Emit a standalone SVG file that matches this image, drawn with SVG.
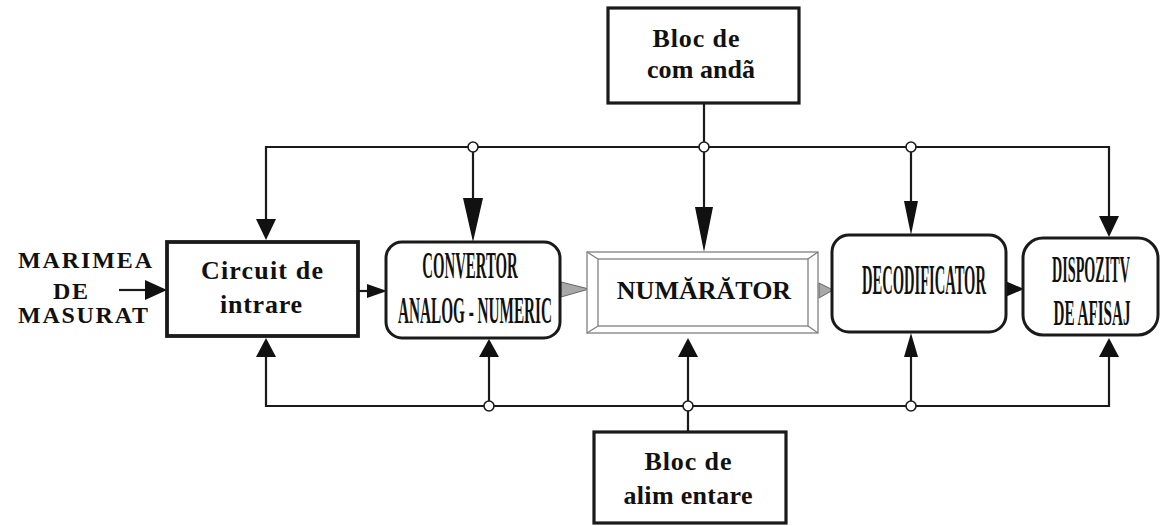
<svg xmlns="http://www.w3.org/2000/svg" width="1162" height="526" viewBox="0 0 1162 526">
<style>
.bg{fill:#fff}
.box{fill:#fff;stroke:#1a1a1a;stroke-width:3.2}
.rbox{fill:#fff;stroke:#1a1a1a;stroke-width:3}
.wire{fill:none;stroke:#1a1a1a;stroke-width:2.2}
.head{fill:#111;stroke:none}
.grey{fill:#a8a8a8;stroke:#666;stroke-width:1}
.dot{fill:#fff;stroke:#1a1a1a;stroke-width:1.6}
.frame{fill:#fff;stroke:#808080;stroke-width:1.3}
.t{font-family:"Liberation Serif","Times New Roman",serif;font-weight:bold;fill:#111}
.ts{font-size:26px;text-anchor:middle}
.tc{text-anchor:middle}
.lab{font-size:24px}
</style>
<rect class="bg" x="0" y="0" width="1162" height="526"/>

<g id="connectors">
  <polyline class="wire" points="266,220 266,147 1109,147 1109,218"/>
  <line class="wire" x1="704" y1="103" x2="704" y2="210"/>
  <line class="wire" x1="473" y1="147" x2="473" y2="200"/>
  <line class="wire" x1="911" y1="147" x2="911" y2="203"/>
  <polygon class="head" points="256,219 276,219 266,240"/>
  <polygon class="head" points="463,198 483,198 473,242"/>
  <polygon class="head" points="695,207 713,207 704,252"/>
  <polygon class="head" points="904,201 918,201 911,235"/>
  <polygon class="head" points="1099,216 1119,216 1109,237"/>
  <polyline class="wire" points="266,356 266,406 1109,406 1109,356"/>
  <line class="wire" x1="688" y1="432" x2="688" y2="356"/>
  <line class="wire" x1="489" y1="406" x2="489" y2="356"/>
  <line class="wire" x1="911" y1="406" x2="911" y2="356"/>
  <polygon class="head" points="256,357 276,357 266,338"/>
  <polygon class="head" points="479,357 499,357 489,339"/>
  <polygon class="head" points="678,357 698,357 688,338"/>
  <polygon class="head" points="904,357 918,357 911,333"/>
  <polygon class="head" points="1099,357 1119,357 1109,338"/>
  <circle class="dot" cx="473" cy="147" r="5"/>
  <circle class="dot" cx="704" cy="147" r="5"/>
  <circle class="dot" cx="911" cy="147" r="5"/>
  <circle class="dot" cx="489" cy="406" r="5"/>
  <circle class="dot" cx="688" cy="406" r="5"/>
  <circle class="dot" cx="911" cy="406" r="5"/>
  <line class="wire" x1="119" y1="290" x2="147" y2="290"/>
  <polygon class="head" points="145,280 167,290 145,300"/>
  <line class="wire" x1="359" y1="291" x2="369" y2="291"/>
  <polygon class="head" points="367,284 387,291 367,298"/>
  <polygon class="grey" points="561,282 589,289 561,297"/>
  <polygon class="grey" points="819,283 833,290 819,298"/>
  <polygon class="head" points="1003,280 1024,289 1003,298"/>
</g>

<g id="input-label">
  <text class="t lab" x="18" y="268" textLength="134" lengthAdjust="spacing">MARIMEA</text>
  <text class="t lab" x="53" y="299" textLength="35" lengthAdjust="spacing">DE</text>
  <text class="t lab" x="18" y="323" textLength="130" lengthAdjust="spacing">MASURAT</text>
</g>

<g id="bloc-comanda">
  <rect class="box" x="608" y="8" width="191" height="95"/>
  <text class="t ts" x="696" y="47" textLength="87" lengthAdjust="spacing">Bloc de</text>
  <text class="t ts" x="701" y="78" textLength="108" lengthAdjust="spacing">com andã</text>
</g>

<g id="circuit-intrare">
  <rect class="box" x="167" y="242" width="191" height="94" style="stroke-width:3.8"/>
  <text class="t ts" x="262" y="279" textLength="122" lengthAdjust="spacing">Circuit de</text>
  <text class="t ts" x="261" y="313" textLength="82" lengthAdjust="spacing">intrare</text>
</g>

<g id="convertor">
  <rect class="rbox" x="386" y="242" width="174" height="96" rx="16"/>
  <text class="t tc" style="font-size:37px" transform="translate(470,278) scale(0.40,1)">CONVERTOR</text>
  <text class="t tc" style="font-size:37px" transform="translate(475,323) scale(0.412,1)">ANALOG - NUMERIC</text>
</g>

<g id="numarator">
  <rect class="frame" x="587" y="252" width="231" height="81"/>
  <rect class="frame" x="598" y="259" width="210" height="67"/>
  <line class="frame" x1="587" y1="252" x2="598" y2="259"/>
  <line class="frame" x1="818" y1="252" x2="808" y2="259"/>
  <line class="frame" x1="587" y1="333" x2="598" y2="326"/>
  <line class="frame" x1="818" y1="333" x2="808" y2="326"/>
  <text class="t ts" x="704" y="299">NUMĂRĂTOR</text>
</g>

<g id="decodificator">
  <rect class="rbox" x="832" y="235" width="174" height="97" rx="17"/>
  <text class="t tc" style="font-size:43px" transform="translate(924,294) scale(0.338,1)">DECODIFICATOR</text>
</g>

<g id="dispozitiv">
  <rect class="rbox" x="1023" y="238" width="135" height="97" rx="20"/>
  <text class="t tc" style="font-size:37px" transform="translate(1091,282) scale(0.383,1)">DISPOZITV</text>
  <text class="t tc" style="font-size:35px" transform="translate(1092,325) scale(0.433,1)">DE AFISAJ</text>
</g>

<g id="bloc-alimentare">
  <rect class="box" x="594" y="432" width="192" height="91"/>
  <text class="t ts" x="688" y="470" textLength="87" lengthAdjust="spacing">Bloc de</text>
  <text class="t ts" x="688" y="504" textLength="129" lengthAdjust="spacing">alim entare</text>
</g>
</svg>
